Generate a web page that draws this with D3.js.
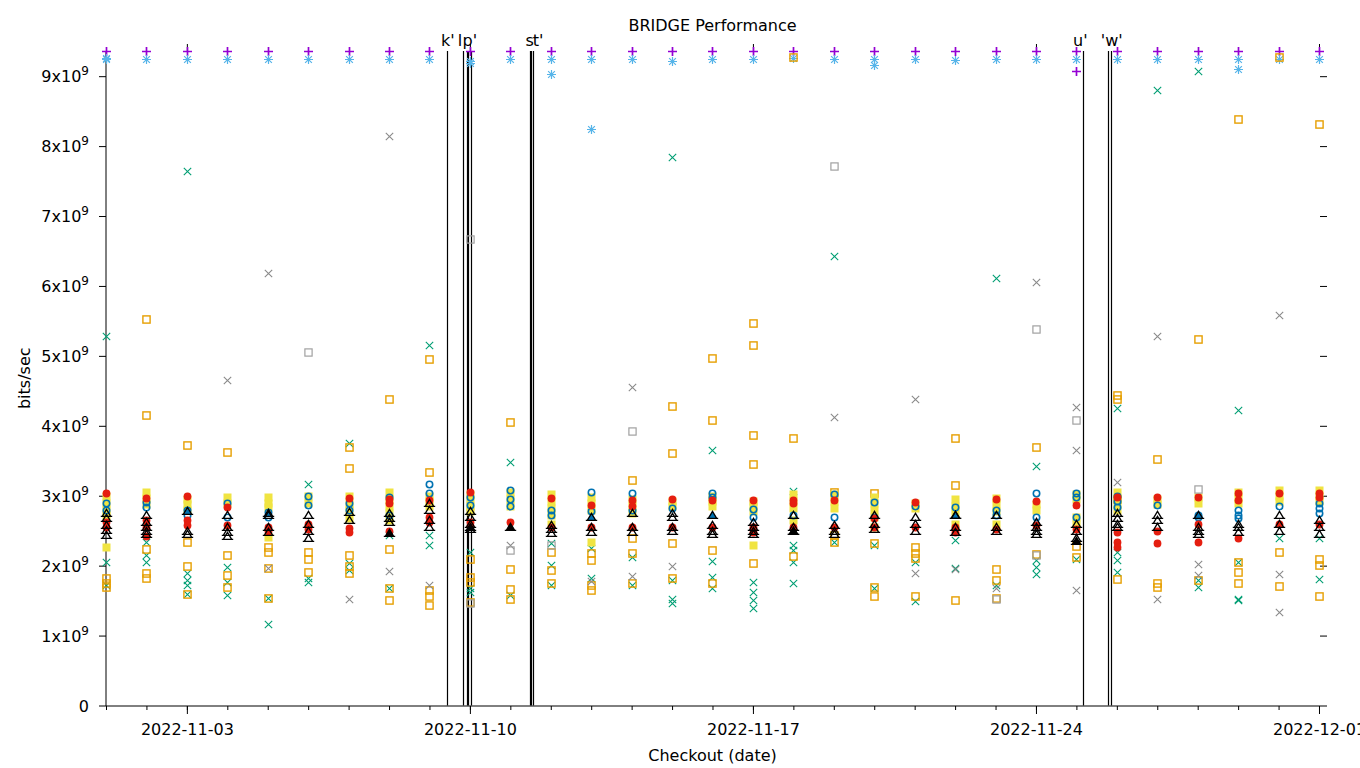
<!DOCTYPE html>
<html><head><meta charset="utf-8">
<script src="https://cdn.jsdelivr.net/npm/d3@7"></script>
<style>body{margin:0;background:#fff}svg{display:block}text{font-family:"DejaVu Sans",sans-serif;fill:#000}</style>
</head><body><svg id="c" width="1360" height="768"></svg>
<script>
// ---- data (values in units of 1e9 bits/sec) ----
const UNIT = 1e9;
const dates = ["2022-11-01","2022-11-02","2022-11-03","2022-11-04","2022-11-05","2022-11-06","2022-11-07","2022-11-08","2022-11-09","2022-11-10","2022-11-11","2022-11-12","2022-11-13","2022-11-14","2022-11-15","2022-11-16","2022-11-17","2022-11-18","2022-11-19","2022-11-20","2022-11-21","2022-11-22","2022-11-23","2022-11-24","2022-11-25","2022-11-26","2022-11-27","2022-11-28","2022-11-29","2022-11-30","2022-12-01"];
const xTickLabels = ["2022-11-03","2022-11-10","2022-11-17","2022-11-24","2022-12-01"];
const yTickValues = [0,1,2,3,4,5,6,7,8,9];

const purplePlus = [[9.36],[9.36],[9.36],[9.36],[9.36],[9.36],[9.36],[9.36],[9.36],[9.36],[9.36],[9.36],[9.36],[9.36],[9.36],[9.36],[9.36],[9.36],[9.36],[9.36],[9.36],[9.36],[9.36],[9.36],[9.36,9.08],[9.36],[9.36],[9.36],[9.36],[9.36],[9.36]];
const greenX = [[5.28,2.05,1.72],[2.34,2.15,2.05],[7.65,1.9,1.8,1.72,1.6],[1.98,1.77,1.58],[1.54,1.16],[3.17,1.82,1.76],[3.75,2.04,1.94],[2.44,1.68],[5.15,2.44,2.3],[2.2,1.68,1.63],[3.48,1.58],[2.33,2.01,1.72],[2.25,1.82],[2.13,1.72],[7.84,1.8,1.53,1.46],[3.66,2.07,1.84,1.68],[1.77,1.63,1.51,1.39],[3.07,2.3,2.22,2.05,1.75],[6.43,2.34],[2.3,1.68],[2.05,1.5],[2.37,1.97],[6.12,1.72],[3.42,2.08,1.98,1.88],[2.1],[4.25,2.2,2.08,1.91],[8.8],[9.07,1.8,1.7],[4.22,2.05,1.53,1.51],[2.4],[2.4,1.81]];
const blueStar = [[9.26,9.24],[9.24],[9.24],[9.24],[9.24],[9.24],[9.24],[9.24],[9.24],[9.22,9.19],[9.24],[9.24,9.03],[9.24,8.25],[9.24],[9.22],[9.24],[9.24],[9.26],[9.24],[9.24,9.16],[9.24],[9.23],[9.24],[9.24],[9.24],[9.24],[9.24],[9.24],[9.24,9.1],[9.24],[9.24]];
const orangeSq = [[1.82,1.75,1.7],[5.53,4.15,2.24,1.9,1.83],[3.72,2.34,2.0,1.6],[3.62,2.15,1.87,1.7],[2.27,2.2,1.96,1.54],[2.2,2.1,1.91],[3.7,3.39,2.15,2.0,1.9],[4.38,2.24,1.68,1.51],[4.96,3.34,1.65,1.56,1.44],[2.1,1.84,1.77,1.48],[4.06,1.95,1.67,1.52],[2.2,1.94,1.75],[2.18,2.08,1.72,1.65],[3.22,2.4,2.18,1.75],[4.29,3.61,2.32,1.82],[4.97,4.09,2.22,1.75],[5.47,5.15,3.87,3.46,2.04],[9.27,3.82,2.14],[3.06,2.44,2.34],[3.04,2.33,1.7,1.57],[2.27,2.18,2.11,1.57],[3.82,3.16,1.51],[1.95,1.8,1.54],[3.69,2.17],[2.28,2.13],[4.44,4.38,2.95,1.81],[3.53,1.75,1.7],[5.24,1.8],[8.39,2.05,1.91,1.75],[9.28,2.2,1.71],[8.32,2.09,2.01,1.56]];
const yellowSq = [[3.0,2.9,2.8,2.72,2.27],[3.05,2.97,2.88],[2.95,2.88,2.8],[2.98,2.9],[2.98,2.9,2.84,2.41],[3.0,2.9],[3.0,2.88,2.8,2.68],[3.05,2.95,2.85,2.75,2.65],[3.0,2.92,2.85],[3.02,2.95,2.85,2.78],[3.05,2.95,2.85],[3.02,2.92,2.82,2.72,2.6],[2.98,2.9,2.8,2.34],[2.95,2.85,2.75],[2.92,2.85],[3.0,2.92,2.85],[2.92,2.85,2.78,2.29],[3.02,2.92,2.82,2.65],[3.02,2.92,2.82],[2.98,2.9,2.8,2.7,2.55],[2.9,2.82],[2.95,2.85,2.75,2.6],[2.97,2.88,2.78,2.6],[2.88,2.8],[3.02,2.95,2.7,2.6],[3.05,2.97,2.88,2.8],[2.95,2.88],[2.98,2.9],[3.05,2.97,2.9],[3.08,3.0,2.92],[3.08,3.0,2.92]];
const blueCirc = [[2.9,2.8],[2.91,2.84],[2.8,2.72],[2.9,2.7],[2.77,2.7],[3.0,2.87],[2.9,2.8],[2.98,2.72],[3.17,3.04],[2.98,2.87],[3.08,2.96,2.85],[2.8,2.72],[3.05,2.78],[3.04,2.8],[2.83],[3.04,2.98],[2.81,2.7],[2.72],[3.02,2.7],[2.91,2.7],[2.85],[2.84],[2.8,2.72],[3.04,2.7],[3.04,2.98,2.7],[3.0,2.92,2.84],[2.87],[2.72,2.7],[2.8,2.73,2.68],[2.85],[2.9,2.82,2.75]];
const redCirc = [[3.04,2.62,2.55],[2.97,2.65,2.55,2.42],[3.0,2.65,2.58],[2.84,2.58],[2.55,2.5],[2.6,2.52],[2.97,2.54,2.48],[2.95,2.9,2.5],[2.94,2.7,2.62],[3.05,2.62,2.56],[2.62],[2.97,2.55],[2.87,2.55],[2.94,2.86,2.55],[2.96,2.55],[2.94,2.55],[2.94,2.55,2.48],[2.94,2.9,2.55],[2.94,2.55],[2.68,2.55],[2.91,2.55],[2.55,2.48],[2.96,2.52],[2.93,2.58],[2.87,2.52],[2.98,2.48,2.34,2.27],[2.98,2.5,2.33],[2.98,2.6,2.34],[3.04,2.94,2.4],[3.04,2.6],[3.04,2.98,2.6]];
const blackTriOpen = [[2.75,2.68,2.58,2.51,2.44],[2.72,2.62,2.55,2.5,2.45],[2.5,2.45],[2.72,2.55,2.48,2.42],[2.72,2.55,2.48],[2.72,2.6,2.5,2.4],[2.77,2.65],[2.75,2.68,2.62],[2.9,2.8,2.65,2.55],[2.78,2.7,2.6,2.52],[],[2.58,2.52,2.47],[2.55,2.48],[2.75,2.55,2.48],[2.75,2.7,2.55,2.5],[2.58,2.5,2.45],[2.63,2.55,2.5,2.45],[2.72,2.55,2.5],[2.58,2.5,2.45],[2.72,2.6,2.52],[2.7,2.6,2.5],[2.72,2.55,2.48],[2.72,2.55,2.5],[2.62,2.55,2.5,2.45],[2.6,2.5,2.4],[2.75,2.68,2.6,2.55],[2.72,2.65,2.55],[2.55,2.5,2.45],[2.6,2.55,2.48],[2.72,2.6,2.5],[2.65,2.55,2.45]];
const blackTriFilled = [[],[],[],[],[],[],[],[2.47],[],[2.55],[2.55],[],[],[],[],[],[],[2.5],[],[],[],[],[],[],[2.35],[],[],[],[],[],[]];
const blueTri = [[],[],[2.78],[],[2.75],[],[],[],[],[],[],[],[2.7],[],[],[2.72],[],[],[],[],[],[2.72],[],[],[],[],[],[2.73],[],[],[]];
const grayX = [[],[],[],[4.65],[6.19,1.96],[],[1.52],[8.15,1.93],[1.72],[],[2.3],[],[1.78],[4.55,1.85],[2.0],[],[],[],[4.12],[],[4.39,1.9],[1.95],[1.68],[6.05],[4.27,3.66,1.65],[3.2],[5.28,1.52],[2.02,1.87],[],[5.58,1.88,1.33],[]];
const graySq = [[],[],[],[],[],[5.06],[],[],[],[6.67,1.47],[2.22],[2.3],[],[3.92],[],[],[],[],[7.72],[],[],[],[1.52],[5.38,2.15],[4.08],[],[],[3.1],[],[],[]];

const eventTimes = ["2022-11-09T10:28","2022-11-09T19:58","2022-11-09T22:00","2022-11-09T22:48","2022-11-10T00:24","2022-11-11T11:31","2022-11-11T12:30","2022-11-11T13:36","2022-11-25T04:05","2022-11-25T18:30","2022-11-25T20:40"];
const eventLabels = ["k'","l","p'","s","t'","u'","'w'"];
const eventLabelTimes = ["2022-11-09T10:50","2022-11-09T18:10","2022-11-10T00:00","2022-11-11T11:30","2022-11-11T16:30","2022-11-25T02:20","2022-11-25T21:00"];

// ---- layout ----
const svg = d3.select("#c");
const L = 106, R = 1327, T = 51, B = 705.5;
const parseD = d3.utcParse("%Y-%m-%d");
const parseT = d3.utcParse("%Y-%m-%dT%H:%M");
const x = d3.scaleUtc().domain([parseD("2022-11-01"), parseT("2022-12-01T04:45")]).range([L, R]);
const y = d3.scaleLinear().domain([0, 9.36 * UNIT]).range([B, T]);

// axes
svg.append("line").attr("x1", L).attr("x2", L).attr("y1", T).attr("y2", B + 0.5).attr("stroke", "#000");
svg.append("line").attr("x1", L).attr("x2", R).attr("y1", B + 0.5).attr("y2", B + 0.5).attr("stroke", "#000");

const yAxis = d3.axisLeft(y).tickValues(yTickValues.map(v => v * UNIT)).tickSize(7).tickFormat("");
const gy = svg.append("g").attr("transform", `translate(${L},0)`).call(yAxis);
gy.select(".domain").remove();
const gyr = svg.append("g").attr("transform", `translate(${R},0)`).call(d3.axisLeft(y).tickValues(yTickValues.slice(1).map(v => v * UNIT)).tickSize(7).tickFormat(""));
gyr.select(".domain").remove();
const ylab = svg.append("g");
yTickValues.forEach(v => {
  const t = ylab.append("text").attr("x", 89).attr("y", y(v * UNIT) + 6).attr("text-anchor", "end").attr("font-size", 16);
  if (v === 0) { t.text("0"); }
  else { t.append("tspan").text(v + "x10"); t.append("tspan").attr("dy", -7).attr("font-size", 12).text("9"); }
});

const majors = xTickLabels.map(parseD);
const minors = dates.map(parseD);
const gxm = svg.append("g").attr("transform", `translate(0,${B + 0.5})`).call(d3.axisBottom(x).tickValues(minors).tickSize(4).tickFormat(""));
gxm.select(".domain").remove();
const gx = svg.append("g").attr("transform", `translate(0,${B + 0.5})`).call(d3.axisBottom(x).tickValues(majors).tickSize(8).tickPadding(10).tickFormat(d3.utcFormat("%Y-%m-%d")));
gx.select(".domain").remove();
gx.selectAll("text").attr("font-size", 16).attr("font-family", "DejaVu Sans").attr("fill", "#000");
const gxt = svg.append("g").attr("transform", `translate(0,${T})`).call(d3.axisTop(x).tickValues(majors).tickSize(7).tickFormat(""));
gxt.select(".domain").remove();
svg.selectAll(".tick line").attr("stroke", "#000");

// titles
svg.append("text").attr("x", (L + 1319) / 2).attr("y", 31).attr("text-anchor", "middle").attr("font-size", 16).text("BRIDGE Performance");
svg.append("text").attr("x", (L + 1319) / 2).attr("y", 761).attr("text-anchor", "middle").attr("font-size", 16).text("Checkout (date)");
svg.append("text").attr("transform", `translate(30,${(T + B) / 2}) rotate(-90)`).attr("text-anchor", "middle").attr("font-size", 16).text("bits/sec");

// event lines
svg.append("g").selectAll("line").data(eventTimes).join("line")
  .attr("x1", d => Math.round(x(parseT(d))) + 0.5).attr("x2", d => Math.round(x(parseT(d))) + 0.5)
  .attr("y1", T).attr("y2", B).attr("stroke", "#000").attr("stroke-width", 1.2);
svg.append("g").selectAll("text").data(eventLabels).join("text")
  .attr("x", (d, i) => x(parseT(eventLabelTimes[i]))).attr("y", 46).attr("text-anchor", "middle").attr("font-size", 16).text(d => d);

// ---- points ----
function flat(arr) { const out = []; arr.forEach((vals, i) => vals.forEach(v => out.push({ d: parseD(dates[i]), v: v * UNIT }))); return out; }
const gp = svg.append("g");
function draw(arr, fn) { const g = gp.append("g"); flat(arr).forEach(p => fn(g, Math.round(x(p.d)) + 0.5, Math.round(y(p.v)) + 0.5)); }
const plus = (c, s, w) => (g, cx, cy) => g.append("path").attr("d", `M${cx - s},${cy}H${cx + s}M${cx},${cy - s}V${cy + s}`).attr("stroke", c).attr("stroke-width", w).attr("fill", "none");
const cross = (c, s, w) => (g, cx, cy) => g.append("path").attr("d", `M${cx - s},${cy - s}L${cx + s},${cy + s}M${cx - s},${cy + s}L${cx + s},${cy - s}`).attr("stroke", c).attr("stroke-width", w).attr("fill", "none");
const star = (c, s, w) => (g, cx, cy) => g.append("path").attr("d", `M${cx - s},${cy}H${cx + s}M${cx},${cy - s}V${cy + s}M${cx - s * 0.75},${cy - s * 0.75}L${cx + s * 0.75},${cy + s * 0.75}M${cx - s * 0.75},${cy + s * 0.75}L${cx + s * 0.75},${cy - s * 0.75}`).attr("stroke", c).attr("stroke-width", w).attr("fill", "none");
const sqOpen = (c, s, w) => (g, cx, cy) => g.append("rect").attr("x", cx - s).attr("y", cy - s).attr("width", 2 * s).attr("height", 2 * s).attr("stroke", c).attr("stroke-width", w).attr("fill", "none");
const sqFill = (c, s) => (g, cx, cy) => g.append("rect").attr("x", cx - s).attr("y", cy - s).attr("width", 2 * s).attr("height", 2 * s).attr("fill", c);
const circOpen = (c, r, w) => (g, cx, cy) => g.append("circle").attr("cx", cx).attr("cy", cy).attr("r", r).attr("stroke", c).attr("stroke-width", w).attr("fill", "none");
const circFill = (c, r) => (g, cx, cy) => g.append("circle").attr("cx", cx).attr("cy", cy).attr("r", r).attr("fill", c);
const tri = (stroke, fill, s) => (g, cx, cy) => g.append("path").attr("d", `M${cx},${cy - s}L${cx + s},${cy + s * 0.7}L${cx - s},${cy + s * 0.7}Z M${cx - s - 1.5},${cy + s * 0.7}H${cx + s + 1.5}`).attr("stroke", stroke).attr("stroke-width", 1.3).attr("fill", fill);

draw(purplePlus, plus("#9400D3", 4.5, 1.7));
draw(greenX, cross("#009E73", 3.7, 1.1));
draw(blueStar, star("#56B4E9", 4.5, 1.2));
draw(orangeSq, sqOpen("#E69F00", 3.6, 1.4));
draw(yellowSq, sqFill("#F0E442", 4));
draw(blueCirc, circOpen("#0072B2", 3.2, 1.6));
draw(redCirc, circFill("#E51E10", 3.9));
draw(blueTri, tri("#000", "#0072B2", 4.2));
draw(blackTriOpen, tri("#000", "none", 4.2));
draw(blackTriFilled, tri("#000", "#000", 4.2));
draw(grayX, cross("#8a8a8a", 3.7, 1.1));
draw(graySq, sqOpen("#a0a0a0", 3.6, 1.2));
</script></body></html>
